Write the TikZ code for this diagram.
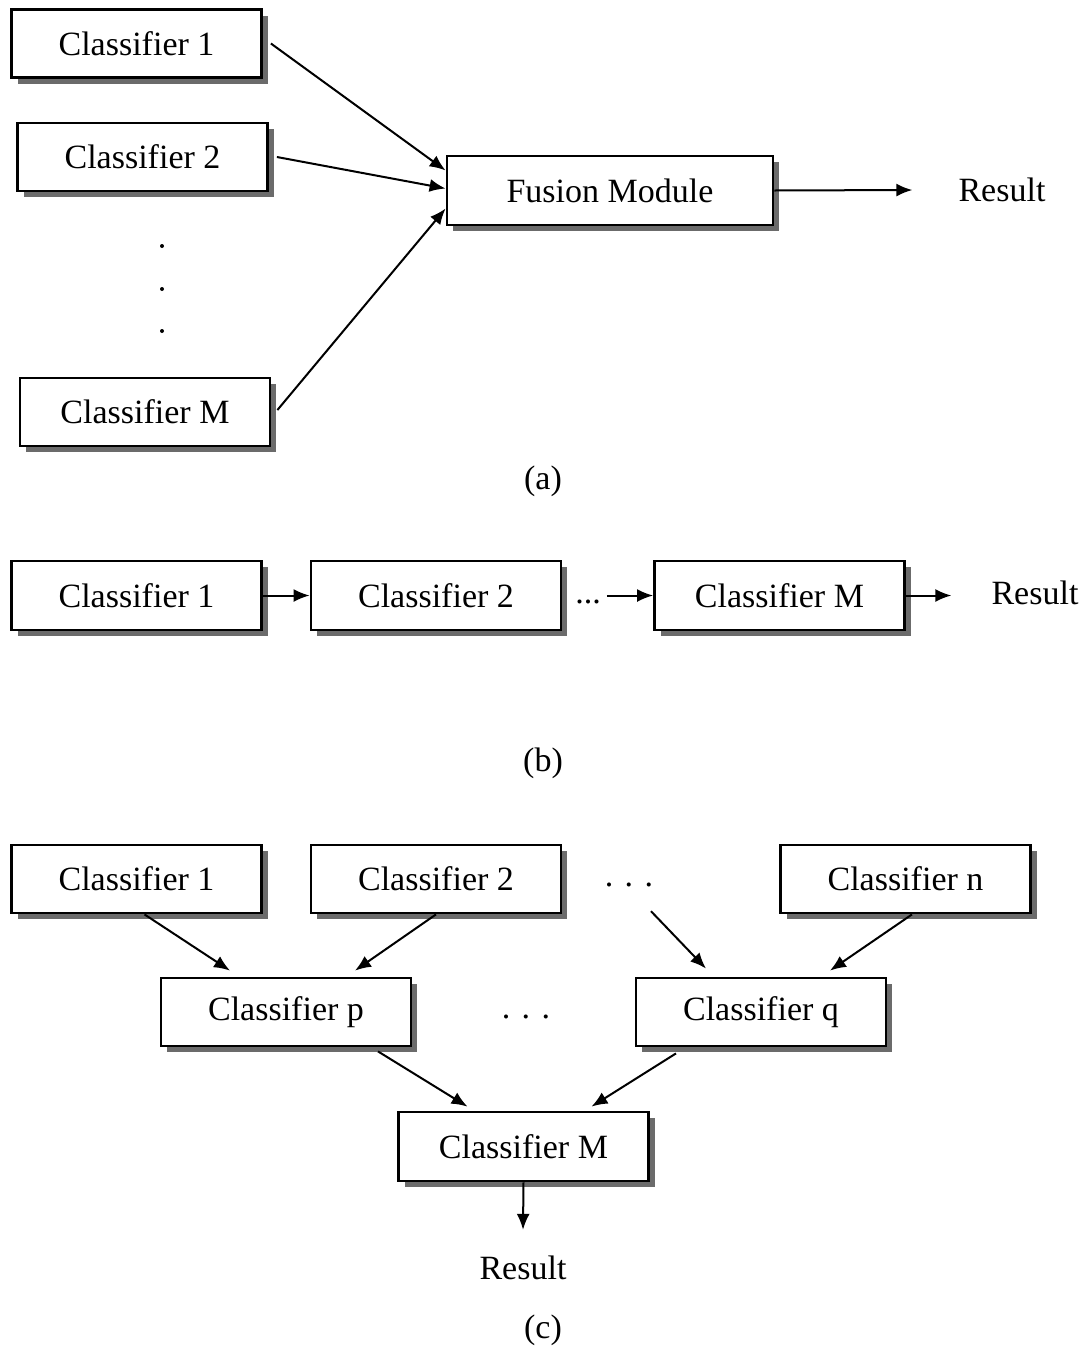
\documentclass[tikz,border=0pt]{standalone}
\usepackage{fontspec}
\setmainfont{Liberation Serif}
\usetikzlibrary{arrows.meta,shadows}
\begin{document}
\begin{tikzpicture}[x=1pt,y=-1pt,
  font=\fontsize{34}{40}\selectfont,
  box/.style={draw=black, line width=2.8pt, fill=white, inner sep=0pt,
    minimum width=250pt, minimum height=68pt,
    drop shadow={shadow xshift=6pt, shadow yshift=-6pt, fill=black!58, opacity=1}},
  lbl/.style={inner sep=0pt},
  arr/.style={line width=2pt, -{Latex[length=16pt,width=13pt]}}]
\useasboundingbox (0,0) rectangle (1092,1347);

% ---- (a) parallel combination ----
\node[box] (a1) at (136.5,43.5) {Classifier 1};
\node[box] (a2) at (142.5,157) {Classifier 2};
\node[box] (aM) at (145,412) {Classifier M};
\node[box, minimum width=326pt, minimum height=69pt] (fus) at (610,190.5) {Fusion Module};
\node[lbl] (resA) at (1002,190) {Result};
\fill (162,246) circle (2pt) (162,289) circle (2pt) (162,331) circle (2pt);
\draw[arr] ([xshift=8pt]a1.east) -- ([yshift=20pt]fus.west);
\draw[arr] ([xshift=8pt]a2.east) -- ([yshift=2pt]fus.west);
\draw[arr] ([xshift=6pt,yshift=2pt]aM.east) -- ([yshift=-18pt]fus.west);
\draw[arr] (fus.east) -- ([xshift=-46pt]resA.west);
\node[lbl] (capa) at (543,481) {(a)};

% ---- (b) serial combination ----
\node[box, minimum height=69pt] (b1) at (136.5,595.5) {Classifier 1};
\node[box, minimum height=69pt] (b2) at (436,595.5) {Classifier 2};
\node[box, minimum height=69pt] (bM) at (779.5,595.5) {Classifier M};
\node[lbl] (bdots) at (588,602) {...};
\node[lbl] (resB) at (1035,593) {Result};
\draw[arr] (b1.east) -- (b2.west);
\draw[arr] ([xshift=6pt]bdots.east |- b2.east) -- (bM.west);
\draw[arr] (bM.east) -- ([xshift=-40pt]resB.west |- bM.east);
\node[lbl] (capb) at (543,763) {(b)};

% ---- (c) hierarchical combination ----
\node[box] (c1) at (136.5,879) {Classifier 1};
\node[box] (c2) at (436,879) {Classifier 2};
\node[lbl] (cdots) at (629,885) {. . .};
\node[box] (cn) at (905.5,879) {Classifier n};
\node[box] (cp) at (286,1012) {Classifier p};
\node[lbl] (cmid) at (526,1017) {. . .};
\node[box] (cq) at (761,1012) {Classifier q};
\node[box, minimum height=69pt] (cM) at (523.5,1146.5) {Classifier M};
\node[lbl] (resC) at (523,1268) {Result};
\draw[arr] ([xshift=8pt]c1.south) -- ([xshift=-56pt,yshift=6pt]cp.north);
\draw[arr] (c2.south) -- ([xshift=69pt,yshift=6pt]cp.north);
\draw[arr] ([xshift=22pt,yshift=-24pt]cdots.south) -- ([xshift=-55pt,yshift=8pt]cq.north);
\draw[arr] ([xshift=6.5pt]cn.south) -- ([xshift=69pt,yshift=6pt]cq.north);
\draw[arr] ([xshift=92pt,yshift=-4pt]cp.south) -- ([xshift=-56pt,yshift=4pt]cM.north);
\draw[arr] ([xshift=-85pt,yshift=-6pt]cq.south) -- ([xshift=68pt,yshift=4pt]cM.north);
\draw[arr] (cM.south) -- ([yshift=26pt]resC.north);
\node[lbl] (capc) at (543,1330) {(c)};
\end{tikzpicture}
\end{document}
